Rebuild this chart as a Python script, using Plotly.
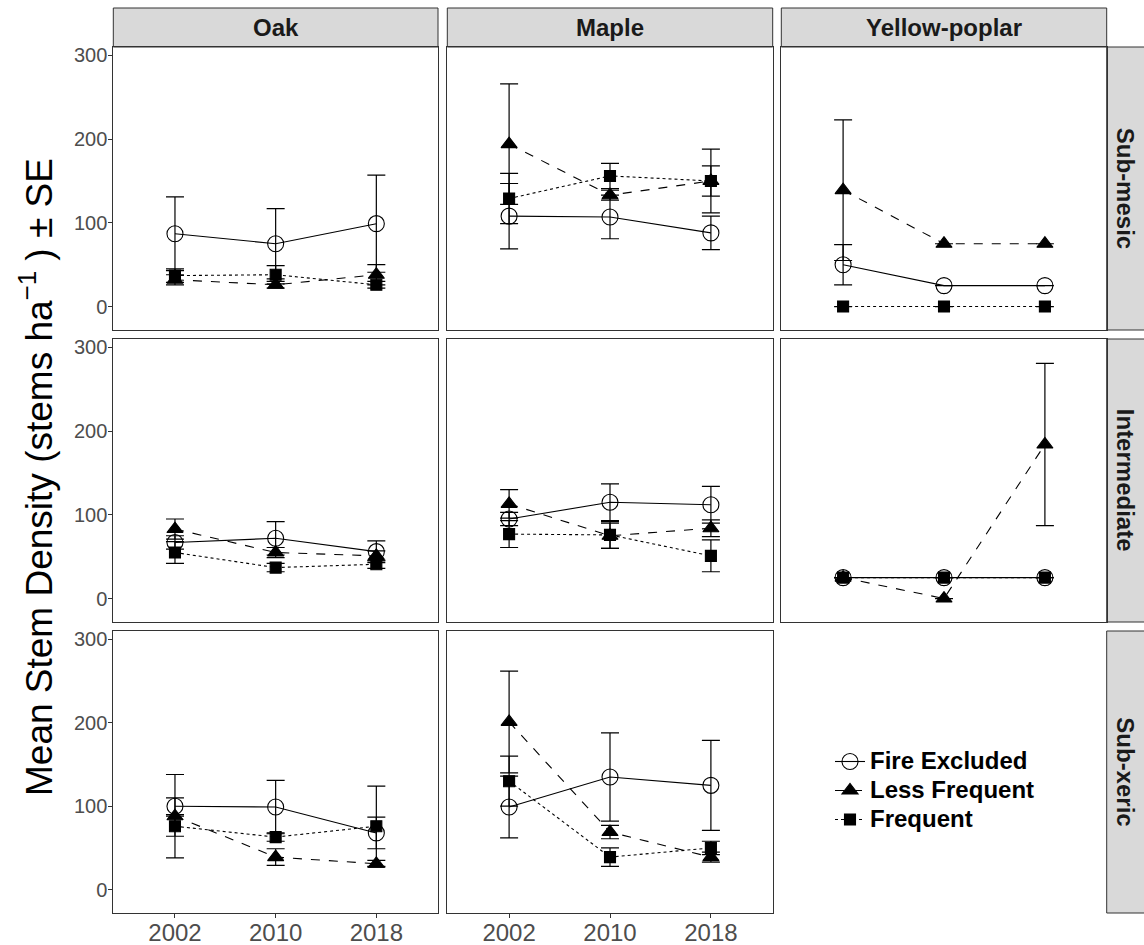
import plotly.graph_objects as go

years = [2002, 2010, 2018]
species = ["Oak", "Maple", "Yellow-poplar"]
sites = ["Sub-mesic", "Intermediate", "Sub-xeric"]
treatments = ["Fire Excluded", "Less Frequent", "Frequent"]

# Mean stem density (stems/ha), indexed [site][species][year]
fire_excluded_mean = [
    [[87, 75, 99], [108, 107, 88], [50, 25, 25]],
    [[67, 72, 56], [95, 115, 112], [25, 25, 25]],
    [[100, 99, 68], [99, 135, 125], None],
]
fire_excluded_se = [
    [[44, 42, 58], [39, 26, 20], [24, 0, 0]],
    [[8, 20, 13], [8, 22, 22], [0, 0, 0]],
    [[10, 32, 19], [37, 53, 54], None],
]
less_frequent_mean = [
    [[32, 26, 38], [194, 133, 150], [139, 75, 75]],
    [[83, 55, 51], [113, 75, 84], [25, 0, 184]],
    [[88, 39, 31], [201, 69, 39], None],
]
less_frequent_se = [
    [[6, 4, 12], [72, 6, 38], [84, 0, 0]],
    [[12, 6, 6], [17, 15, 10], [0, 0, 97]],
    [[50, 10, 4], [61, 8, 6], None],
]
frequent_mean = [
    [[37, 38, 26], [129, 156, 150], [0, 0, 0]],
    [[55, 37, 41], [77, 76, 51], [25, 25, 25]],
    [[76, 63, 76], [130, 39, 50], None],
]
frequent_se = [
    [[8, 11, 4], [30, 15, 18], [0, 0, 0]],
    [[13, 5, 5], [16, 16, 19], [0, 0, 0]],
    [[12, 5, 48], [30, 11, 8], None],
]

y_ticks = [0, 100, 200, 300]

W, H = 1144, 945
col_px = [(113.3, 438.0), (447.3, 772.7), (781.3, 1106.7)]
row_px = [(47, 330), (339, 622), (631, 913)]
strip_top = (8, 47)
strip_right = (1106.7, 1150)

styles = {
    "Fire Excluded": dict(symbol="circle-open", size=16, dash="solid",
                          mean=fire_excluded_mean, se=fire_excluded_se),
    "Less Frequent": dict(symbol="triangle-up", size=14, dash="dash",
                          mean=less_frequent_mean, se=less_frequent_se),
    "Frequent": dict(symbol="square", size=11, dash="dot",
                     mean=frequent_mean, se=frequent_se),
}

FONT = "Liberation Sans, Arial, sans-serif"
fig = go.Figure()

for r, site in enumerate(sites):
    for c, sp in enumerate(species):
        k = r * 3 + c + 1
        sfx = "" if k == 1 else str(k)
        for t in treatments:
            st = styles[t]
            m = st["mean"][r][c]
            s = st["se"][r][c]
            if m is None:
                continue
            fig.add_trace(go.Scatter(
                x=years, y=m, mode="lines+markers",
                name="<b><span style='font-size:24px'>%s</span></b>" % t,
                legendgroup=t, showlegend=(k == 1),
                xaxis="x" + sfx, yaxis="y" + sfx,
                line=dict(color="black", width=1.1, dash=st["dash"]),
                marker=dict(symbol=st["symbol"], size=st["size"], color="black",
                            line=dict(color="black", width=1.1)),
                error_y=dict(type="data", array=s, visible=True,
                             color="black", thickness=1.2, width=9),
            ))
        x0, x1 = col_px[c]
        y0, y1 = row_px[r]
        fig.layout["xaxis" + sfx] = dict(
            domain=[x0 / W, x1 / W], anchor="y" + sfx,
            range=[1997.1, 2022.9], tickvals=years,
            ticktext=[str(y) for y in years] if r == 2 else ["", "", ""],
            ticks="outside" if r == 2 else "", ticklen=4, tickcolor="#333333",
            showline=True, mirror=True, linecolor="#333333", linewidth=1,
            showgrid=False, zeroline=False, automargin=False,
            ticklabelstandoff=-6,
            tickfont=dict(size=24, color="#4D4D4D", family=FONT),
        )
        fig.layout["yaxis" + sfx] = dict(
            domain=[1 - y1 / H, 1 - y0 / H], anchor="x" + sfx,
            range=[-28, 310], tickvals=y_ticks,
            ticktext=[str(v) for v in y_ticks] if c == 0 else ["", "", "", ""],
            ticks="outside" if c == 0 else "", ticklen=4, tickcolor="#333333",
            showline=True, mirror=True, linecolor="#333333", linewidth=1,
            showgrid=False, zeroline=False, automargin=False,
            ticklabelstandoff=-3,
            tickfont=dict(size=20, color="#4D4D4D", family=FONT),
        )

shapes = []
annotations = []
# column strips
for c, sp in enumerate(species):
    x0, x1 = col_px[c]
    shapes.append(dict(type="rect", xref="paper", yref="paper",
                       x0=x0 / W, x1=x1 / W,
                       y0=1 - strip_top[1] / H, y1=1 - strip_top[0] / H,
                       fillcolor="#D9D9D9", line=dict(color="#333333", width=1),
                       layer="below"))
    annotations.append(dict(text="<b>%s</b>" % sp, xref="paper", yref="paper",
                            x=(x0 + x1) / 2 / W,
                            y=1 - (strip_top[0] + strip_top[1]) / 2 / H,
                            xanchor="center", yanchor="middle",
                            showarrow=False,
                            font=dict(size=24, color="#1A1A1A", family=FONT)))
# row strips
for r, site in enumerate(sites):
    y0, y1 = row_px[r]
    shapes.append(dict(type="rect", xref="paper", yref="paper",
                       x0=strip_right[0] / W, x1=strip_right[1] / W,
                       y0=1 - y1 / H, y1=1 - y0 / H,
                       fillcolor="#D9D9D9", line=dict(color="#333333", width=1),
                       layer="below"))
    annotations.append(dict(text="<b>%s</b>" % site, xref="paper", yref="paper",
                            x=(strip_right[0] + 19) / W,
                            y=1 - (y0 + y1) / 2 / H,
                            xanchor="center", yanchor="middle",
                            showarrow=False, textangle=90,
                            font=dict(size=24, color="#1A1A1A", family=FONT)))

annotations.append(dict(
    text="Mean Stem Density (stems ha<sup>−1</sup> ) ± SE",
    xref="paper", yref="paper", x=36 / W, y=1 - 477 / H,
    xanchor="center", yanchor="middle",
    showarrow=False, textangle=-90,
    font=dict(size=37, color="black", family=FONT)))

fig.update_layout(
    width=W, height=H,
    margin=dict(l=0, r=0, t=0, b=0),
    paper_bgcolor="white", plot_bgcolor="white",
    shapes=shapes, annotations=annotations,
    showlegend=True,
    legend=dict(x=830 / W, y=1 - 742 / H, xanchor="left", yanchor="top",
                bgcolor="rgba(0,0,0,0)", tracegroupgap=0,
                font=dict(size=20, color="black", family=FONT),
                itemwidth=30),
)

fig.write_html("out.html")
